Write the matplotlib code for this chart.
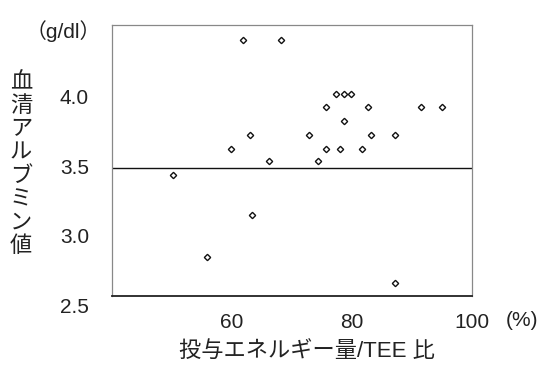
import matplotlib
matplotlib.use("Agg")
import matplotlib.pyplot as plt

plt.rcParams['font.family'] = ['Liberation Sans', 'Noto Sans CJK JP', 'DejaVu Sans']

# dane
energia = [61.8, 68.2, 77.4, 78.7, 79.9, 75.7, 82.7, 91.5, 95.0, 78.7,
           72.8, 63.0, 83.2, 87.2, 59.8, 75.7, 78.0, 81.7, 66.2, 74.3,
           50.1, 63.3, 55.8, 87.2]
albumina = [4.42, 4.42, 4.03, 4.03, 4.03, 3.94, 3.94, 3.94, 3.94, 3.84,
            3.74, 3.74, 3.74, 3.74, 3.64, 3.64, 3.64, 3.64, 3.55, 3.55,
            3.45, 3.16, 2.86, 2.67]
x_ticks = [60, 80, 100]
y_ticks = [2.5, 3.0, 3.5, 4.0]
linia = 3.5

fig = plt.figure(figsize=(5.44, 3.67), dpi=100)
ax = fig.add_axes([0.2059, 0.1935, 0.6617, 0.7384])

ax.plot(energia, albumina, 'D', ms=3.2, mfc='white', mec='#111111', mew=1.0)
ax.axhline(linia, color='#111111', lw=1.0)

ax.set_xlim(40, 100)
ax.set_ylim(2.58, 4.53)

ax.set_xticks(x_ticks)
ax.set_xticklabels([str(t) for t in x_ticks], fontsize=15, color='#222222')
ax.tick_params(axis='x', length=0, pad=12)
ax.set_yticks([])

for v in y_ticks:	# etykiety osi y
    ax.text(-0.064, v, '%.1f' % v, transform=ax.get_yaxis_transform(),
            ha='right', va='center', fontsize=15, color='#222222', clip_on=False)

for s in ['top', 'left', 'right']:
    ax.spines[s].set_color('#888888')
    ax.spines[s].set_linewidth(0.9)
ax.spines['bottom'].set_color('#222222')
ax.spines['bottom'].set_linewidth(1.3)

fig.text(63/544, 1-31/367, '（g/dl）', ha='center', va='center', fontsize=15, color='#222222')
fig.text(522/544, 1-321/367, '(%)', ha='center', va='center', fontsize=15, color='#222222')
fig.text(21/544, 1-165/367, '\n'.join('血清アルブミン値'), ha='center', va='center',
         fontsize=16, linespacing=1.15, color='#222222')
fig.text(307/544, 1-352/367, '投与エネルギー量/TEE 比', ha='center', va='center',
         fontsize=16, color='#222222')

plt.savefig('out.png', dpi=100)
